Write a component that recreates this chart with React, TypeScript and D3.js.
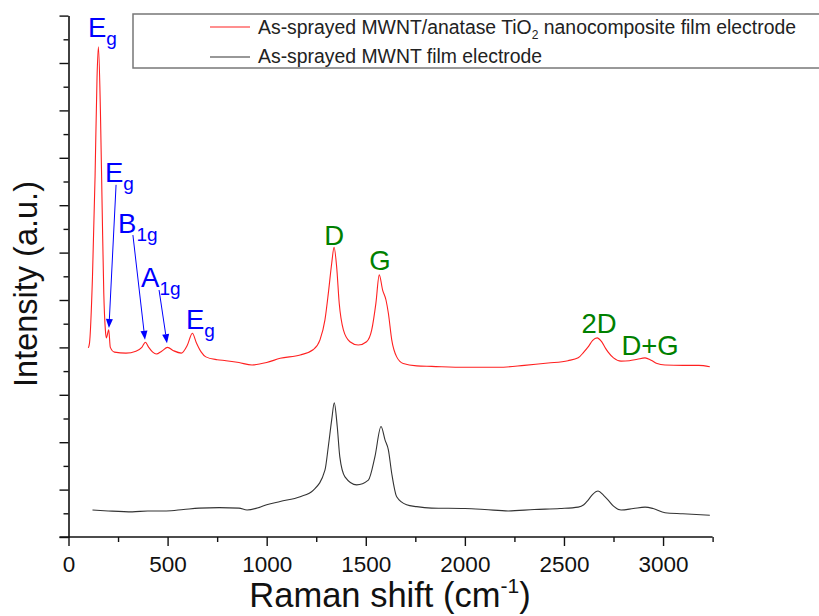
import { useEffect, useRef } from "react";
import * as d3 from "d3";

// Raman shift (cm-1) and intensity (a.u.)
const redShift = [100, 106, 121, 134, 144, 151, 161, 170, 178, 186, 191, 203, 211, 232, 290, 340, 370, 388, 405, 425, 443, 470, 500, 530, 569, 600, 625, 645, 670, 693, 750, 795, 860, 926, 1000, 1068, 1169, 1234, 1269, 1294, 1311, 1328, 1340, 1353, 1366, 1387, 1420, 1462, 1504, 1530, 1551, 1568, 1585, 1602, 1614, 1631, 1656, 1689, 1757, 1832, 2000, 2169, 2300, 2420, 2520, 2572, 2600, 2622, 2645, 2667, 2690, 2710, 2723, 2750, 2788, 2830, 2870, 2909, 2940, 2970, 3010, 3100, 3180, 3236];
const redIntensity = [3.99, 4.09, 5.49, 7.6, 9.7, 10.34, 9.0, 6.9, 5.15, 4.37, 4.2, 4.37, 4.0, 3.9, 3.88, 3.92, 4.0, 4.11, 4.0, 3.9, 3.86, 3.92, 4.0, 3.93, 3.88, 4.05, 4.3, 4.1, 3.9, 3.8, 3.74, 3.72, 3.68, 3.63, 3.68, 3.77, 3.84, 3.95, 4.16, 4.58, 5.14, 5.77, 6.11, 5.7, 4.93, 4.37, 4.12, 4.05, 4.12, 4.37, 4.93, 5.53, 5.21, 5.0, 4.72, 4.16, 3.8, 3.66, 3.61, 3.6, 3.58, 3.58, 3.62, 3.67, 3.72, 3.78, 3.9, 4.01, 4.15, 4.2, 4.12, 3.98, 3.9, 3.78, 3.71, 3.72, 3.75, 3.78, 3.73, 3.66, 3.63, 3.62, 3.62, 3.59];

const blackShift = [121, 200, 322, 400, 493, 580, 659, 760, 860, 901, 960, 1000, 1068, 1169, 1236, 1294, 1311, 1328, 1341, 1356, 1369, 1395, 1454, 1513, 1546, 1577, 1597, 1614, 1631, 1656, 1706, 1757, 1832, 2000, 2100, 2219, 2350, 2480, 2572, 2600, 2622, 2645, 2672, 2700, 2723, 2750, 2788, 2850, 2909, 2950, 3010, 3100, 3236];
const blackIntensity = [0.57, 0.55, 0.53, 0.55, 0.55, 0.58, 0.61, 0.62, 0.61, 0.57, 0.62, 0.68, 0.75, 0.85, 0.99, 1.41, 1.91, 2.47, 2.83, 2.33, 1.69, 1.27, 1.1, 1.2, 1.69, 2.33, 2.05, 1.84, 1.34, 0.85, 0.68, 0.64, 0.61, 0.6, 0.58, 0.55, 0.58, 0.6, 0.63, 0.68, 0.78, 0.9, 0.97, 0.88, 0.78, 0.65, 0.57, 0.6, 0.63, 0.6, 0.51, 0.49, 0.46];

const seriesNames = [
  "As-sprayed MWNT/anatase TiO",
  "As-sprayed MWNT film electrode",
];

// peak labels: text, subscript, anchor (cm-1, a.u.), colour
const peakText = ["E", "E", "B", "A", "E", "D", "G", "2D", "D+G"];
const peakSub = ["g", "g", "1g", "1g", "g", "", "", "", ""];
const peakAt = [[98, 10.55], [184, 7.49], [250, 6.41], [366, 5.27], [593, 4.39], [1290, 6.16], [1518, 5.63], [2588, 4.3], [2790, 3.84]];
const peakColor = ["#0000ff", "#0000ff", "#0000ff", "#0000ff", "#0000ff", "#008000", "#008000", "#008000", "#008000"];

// arrows from label to peak
const arrowFrom = [[240, 7.43], [325, 6.37], [457, 5.21]];
const arrowTo = [[204, 4.41], [386, 4.16], [497, 4.09]];

const W = 819;
const H = 616;
const FONT = "'Liberation Sans', Arial, sans-serif";

export default function App() {
  const axRef = useRef(null);

  const x = d3.scaleLinear().domain([0, 3250]).range([68.5, 712.6]);
  const y = d3.scaleLinear().domain([0, 11]).range([537, 15.6]);

  const line = d3
    .line()
    .x((d) => x(d[0]))
    .y((d) => y(d[1]))
    .curve(d3.curveMonotoneX);

  const red = redShift.map((s, i) => [s, redIntensity[i]]);
  const black = blackShift.map((s, i) => [s, blackIntensity[i]]);

  useEffect(() => {
    const g = d3.select(axRef.current);
    g.selectAll("*").remove();

    // x minor
    g.append("g")
      .attr("transform", `translate(0,${y(0)})`)
      .call(d3.axisBottom(x).tickValues(d3.range(250, 3251, 500)).tickSize(5).tickFormat(() => "").tickSizeOuter(0))
      .call((a) => a.select(".domain").remove());
    // x major
    g.append("g")
      .attr("transform", `translate(0,${y(0)})`)
      .call(d3.axisBottom(x).tickValues(d3.range(0, 3001, 500)).tickSize(9).tickPadding(10).tickFormat(d3.format("d")).tickSizeOuter(0))
      .call((a) => a.select(".domain").attr("d", `M${x(0) - 9},0H${x(3250)}`));
    // y minor
    g.append("g")
      .attr("transform", `translate(${x(0)},0)`)
      .call(d3.axisLeft(y).tickValues(d3.range(0.5, 11, 1)).tickSize(5).tickFormat(() => "").tickSizeOuter(0))
      .call((a) => a.select(".domain").remove());
    // y major
    g.append("g")
      .attr("transform", `translate(${x(0)},0)`)
      .call(d3.axisLeft(y).tickValues(d3.range(0, 11.01, 1)).tickSize(9).tickFormat(() => "").tickSizeOuter(0));

    g.selectAll("path.domain").attr("stroke", "#111").attr("stroke-width", 1.6);
    g.selectAll(".tick line").attr("stroke", "#111").attr("stroke-width", 1.4);
    g.selectAll(".tick text")
      .attr("font-family", FONT)
      .attr("font-size", 22.5)
      .attr("fill", "#111");
  }, []);

  return (
    <svg width={W} height={H} style={{ position: "absolute", left: 0, top: 0 }} fontFamily={FONT}>
      <rect width={W} height={H} fill="#fff" />

      <path d={line(black)} fill="none" stroke="#333" strokeWidth={1.1} />
      <path d={line(red)} fill="none" stroke="#ff2020" strokeWidth={1.1} />

      <g ref={axRef} />

      {/* legend */}
      <rect x={133} y={14} width={700} height={54} fill="#fff" stroke="#777" strokeWidth={1.5} />
      <line x1={210} x2={250} y1={27} y2={27} stroke="#ff2020" strokeWidth={1.1} />
      <line x1={210} x2={250} y1={57} y2={57} stroke="#333" strokeWidth={1.1} />
      <text x={258} y={34} fontSize={19.4} fill="#222">
        {seriesNames[0]}
        <tspan fontSize={12} dy={5}>2</tspan>
        <tspan dy={-5}> nanocomposite film electrode</tspan>
      </text>
      <text x={258} y={63} fontSize={19.4} fill="#222">
        {seriesNames[1]}
      </text>

      {/* arrows */}
      {arrowFrom.map((f, i) => {
        const x1 = x(f[0]);
        const y1 = y(f[1]);
        const x2 = x(arrowTo[i][0]);
        const y2 = y(arrowTo[i][1]);
        const ang = Math.atan2(y2 - y1, x2 - x1);
        const len = 9;
        const wid = 3.5;
        const bx = x2 - len * Math.cos(ang);
        const by = y2 - len * Math.sin(ang);
        const px = -Math.sin(ang) * wid;
        const py = Math.cos(ang) * wid;
        return (
          <g key={i}>
            <line x1={x1} y1={y1} x2={bx} y2={by} stroke="#0000ff" strokeWidth={1} />
            <path d={`M${x2},${y2}L${bx + px},${by + py}L${bx - px},${by - py}Z`} fill="#0000ff" />
          </g>
        );
      })}

      {/* peak labels */}
      {peakText.map((t, i) => (
        <text key={i} x={x(peakAt[i][0])} y={y(peakAt[i][1])} fontSize={27.5} fill={peakColor[i]}>
          {t}
          {peakSub[i] && (
            <tspan fontSize={19} dy={8}>
              {peakSub[i]}
            </tspan>
          )}
        </text>
      ))}

      {/* axis titles */}
      <text transform={`translate(37,${284}) rotate(-90)`} textAnchor="middle" fontSize={32.5} fill="#111">
        Intensity (a.u.)
      </text>
      <text x={390} y={607} textAnchor="middle" fontSize={34.5} fill="#111">
        Raman shift (cm
        <tspan fontSize={21} dy={-14}>-1</tspan>
        <tspan dy={14}>)</tspan>
      </text>
    </svg>
  );
}
